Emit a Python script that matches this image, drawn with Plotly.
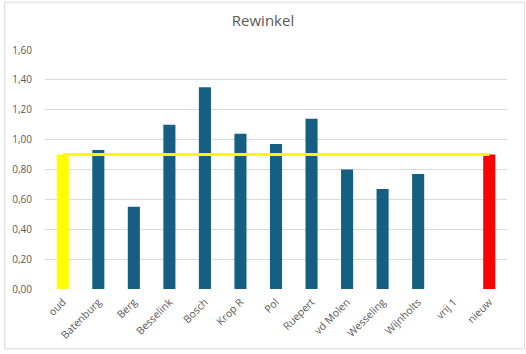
import plotly.graph_objects as go

categories = ["oud", "Batenburg", "Berg", "Besselink", "Bosch", "Krop R", "Pol",
              "Ruepert", "vd Molen", "Wesseling", "Wijnholts", "vrij 1", "nieuw"]
values = [0.90, 0.93, 0.55, 1.10, 1.35, 1.04, 0.97, 1.14, 0.80, 0.67, 0.77, 0.0, 0.90]
colors = ["#FFFF00"] + ["#156082"] * 11 + ["#FF0000"]
line_values = [0.90] * 13
y_ticks = [0.0, 0.2, 0.4, 0.6, 0.8, 1.0, 1.2, 1.4, 1.6]
y_labels = ["0,00", "0,20", "0,40", "0,60", "0,80", "1,00", "1,20", "1,40", "1,60"]

W, H = 526, 354
L, R, T, B = 42, 19, 50, 62
pw, ph = W - L - R, H - T - B

fig = go.Figure()
fig.add_trace(go.Bar(x=categories, y=values, marker=dict(color=colors, line=dict(width=0)),
                     width=0.34, showlegend=False))
fig.add_trace(go.Scatter(x=categories, y=line_values, mode="lines",
                         line=dict(color="#FFFF00", width=3), showlegend=False))

fig.update_layout(
    width=W, height=H,
    margin=dict(l=L, r=R, t=T, b=B),
    paper_bgcolor="white", plot_bgcolor="white",
    font=dict(family="Open Sans, Lato, sans-serif", color="#595959", size=10),
    title=dict(text="Rewinkel", x=0.5, xanchor="center", y=1 - 21 / H, yanchor="middle",
               font=dict(size=15, color="#595959")),
    xaxis=dict(type="category", tickangle=-45, showgrid=False, zeroline=False,
               showline=False, ticks="", ticklabelstandoff=4,
               tickfont=dict(size=10.5, color="#595959")),
    yaxis=dict(range=[0, 1.6], tickvals=y_ticks, ticktext=y_labels, showgrid=True,
               gridcolor="#D9D9D9", gridwidth=1, zeroline=False, showline=False,
               ticks="", ticklabelstandoff=12, tickfont=dict(size=10, color="#595959")),
    shapes=[dict(type="rect", xref="paper", yref="paper",
                 x0=(1.5 - L) / pw, x1=(W - 1.5 - L) / pw,
                 y0=(T + ph - (H - 1.5)) / ph, y1=(T + ph - 1.5) / ph,
                 line=dict(color="#D9D9D9", width=1), layer="below")],
)

fig.write_html("out.html")
